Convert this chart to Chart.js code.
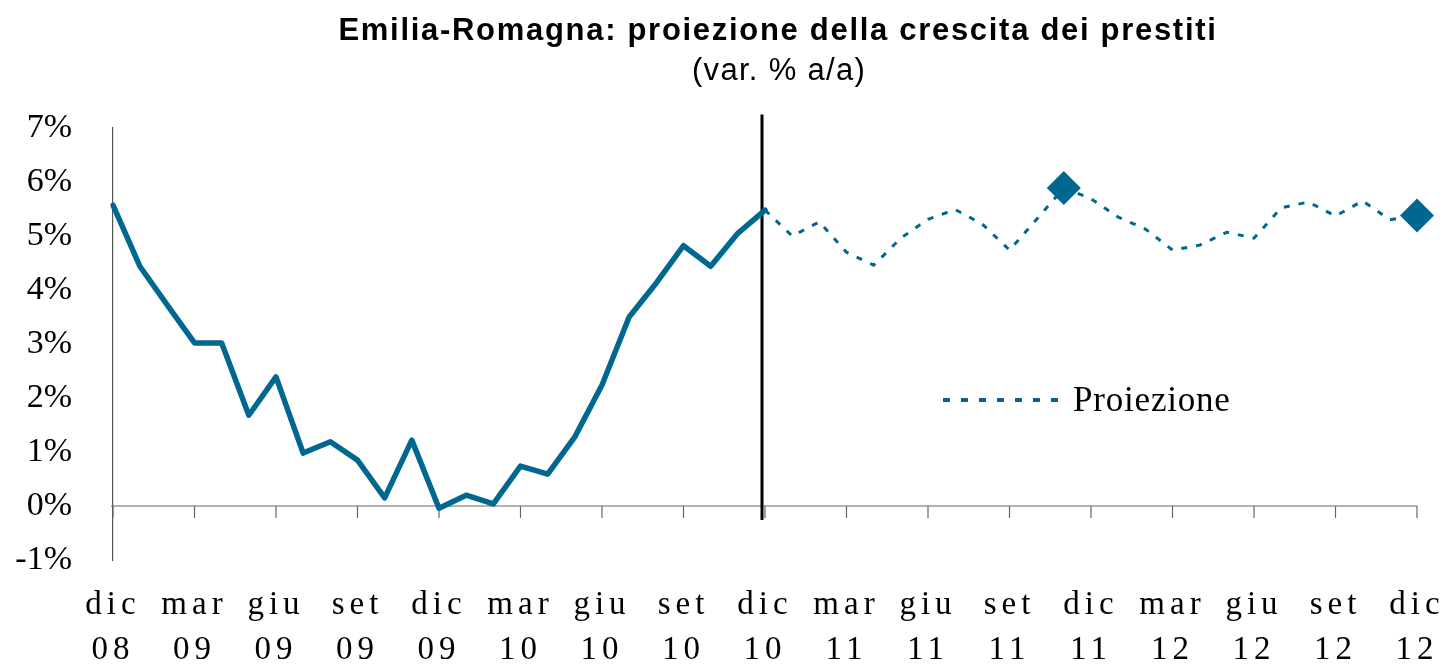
<!DOCTYPE html>
<html lang="it">
<head>
<meta charset="utf-8">
<title>Emilia-Romagna: proiezione della crescita dei prestiti</title>
<script src="https://cdn.jsdelivr.net/npm/chart.js@4/dist/chart.umd.min.js"></script>
<style>
  html, body { margin: 0; padding: 0; background: #fff; }
  #wrap { width: 1449px; height: 666px; }
</style>
</head>
<body>
<div id="wrap"><canvas id="loanChart"></canvas></div>
<script>
// months, dic 08 .. dic 12
const MONTHS = [
  'dic 08',
  'gen 09','feb 09','mar 09','apr 09','mag 09','giu 09','lug 09','ago 09','set 09','ott 09','nov 09','dic 09',
  'gen 10','feb 10','mar 10','apr 10','mag 10','giu 10','lug 10','ago 10','set 10','ott 10','nov 10','dic 10',
  'gen 11','feb 11','mar 11','apr 11','mag 11','giu 11','lug 11','ago 11','set 11','ott 11','nov 11','dic 11',
  'gen 12','feb 12','mar 12','apr 12','mag 12','giu 12','lug 12','ago 12','set 12','ott 12','nov 12','dic 12'
];
// observed growth (%), dic 08 .. dic 10
const ACTUAL = [5.57, 4.43, 3.72, 3.02, 3.02, 1.68, 2.39, 0.98, 1.19, 0.85, 0.15, 1.22, -0.04,
                0.20, 0.04, 0.74, 0.59, 1.28, 2.24, 3.50, 4.13, 4.82, 4.44, 5.05, 5.48];
// projection (%), dic 10 .. dic 12
const PROJECTION = [5.48, 5.00, 5.26, 4.70, 4.46, 4.96, 5.31, 5.49, 5.22, 4.74, 5.31, 5.89,
                    5.69, 5.35, 5.13, 4.74, 4.83, 5.07, 4.96, 5.52, 5.63, 5.37, 5.65, 5.30, 5.38];
const PROJ_START = 'dic 10';
const DIAMOND_AT = ['nov 11', 'dic 12'];
const Y_MIN = -1, Y_MAX = 7;

const TITLE = 'Emilia-Romagna: proiezione della crescita dei prestiti';
const SUBTITLE = '(var. % a/a)';
const LEGEND_LABEL = 'Proiezione';

const BLUE = '#006890';
const SERIF = '"Liberation Serif", "Times New Roman", serif';
const SANS = '"Liberation Sans", Arial, sans-serif';

const startIdx = MONTHS.indexOf(PROJ_START);
const actualData = ACTUAL.concat(Array(MONTHS.length - ACTUAL.length).fill(null));
const projData = Array(startIdx).fill(null).concat(PROJECTION);
const diamondIdx = DIAMOND_AT.map(m => MONTHS.indexOf(m));

const LABEL_SPACING = { x: '5px', y: '0px' };

const overlay = {
  id: 'overlay',
  beforeDraw(chart) {
    // spaced-out month labels, like the original export
    Object.keys(LABEL_SPACING).forEach(id => {
      const sc = chart.scales[id];
      if (!sc || sc._spaced) return;
      const orig = sc.drawLabels;
      sc.drawLabels = function(area) {
        this.ctx.save();
        this.ctx.letterSpacing = LABEL_SPACING[id];
        orig.call(this, area);
        this.ctx.restore();
      };
      sc._spaced = true;
    });
  },
  beforeDatasetsDraw(chart) {
    const { ctx, scales: { x, y } } = chart;
    const y0 = y.getPixelForValue(0);
    ctx.save();
    // zero axis + quarterly ticks
    ctx.strokeStyle = '#666';
    ctx.lineWidth = 1.2;
    ctx.beginPath();
    ctx.moveTo(x.left - 2, y0);
    ctx.lineTo(x.right, y0);
    for (let i = 0; i < MONTHS.length; i += 3) {
      const px = x.getPixelForValue(i);
      ctx.moveTo(px, y0);
      ctx.lineTo(px, y0 + 12);
    }
    ctx.stroke();
    // separator at start of projection
    const sx = x.getPixelForValue(startIdx) - 3;
    ctx.strokeStyle = '#000';
    ctx.lineWidth = 3;
    ctx.beginPath();
    ctx.moveTo(sx, y.getPixelForValue(7.25));
    ctx.lineTo(sx, y.getPixelForValue(-0.26));
    ctx.stroke();
    ctx.restore();
  },
  afterDraw(chart) {
    const { ctx } = chart;
    ctx.save();
    ctx.fillStyle = '#000';
    ctx.textAlign = 'center';
    ctx.textBaseline = 'alphabetic';
    ctx.letterSpacing = '1.7px';
    ctx.font = 'bold 31px ' + SANS;
    ctx.fillText(TITLE, 778, 40);
    ctx.letterSpacing = '1.3px';
    ctx.font = '31px ' + SANS;
    ctx.fillText(SUBTITLE, 779, 80);

    // legend
    ctx.strokeStyle = BLUE;
    ctx.lineWidth = 4;
    ctx.setLineDash([7, 11]);
    ctx.beginPath();
    ctx.moveTo(943, 400);
    ctx.lineTo(1060, 400);
    ctx.stroke();
    ctx.setLineDash([]);
    ctx.textAlign = 'left';
    ctx.textBaseline = 'middle';
    ctx.letterSpacing = '0.8px';
    ctx.font = '35px ' + SERIF;
    ctx.fillText(LEGEND_LABEL, 1073, 402);
    ctx.restore();
  }
};

new Chart(document.getElementById('loanChart'), {
  type: 'line',
  data: {
    labels: MONTHS,
    datasets: [
      {
        label: 'Effettivo',
        data: actualData,
        borderColor: BLUE,
        borderWidth: 5.5,
        borderJoinStyle: 'round',
        borderCapStyle: 'round',
        pointRadius: 0,
        tension: 0,
        spanGaps: false
      },
      {
        label: LEGEND_LABEL,
        data: projData,
        borderColor: BLUE,
        borderWidth: 3,
        borderDash: [6, 9],
        backgroundColor: BLUE,
        pointStyle: 'rectRot',
        pointRadius: c => diamondIdx.includes(c.dataIndex) ? 17 : 0,
        pointBorderWidth: 0,
        pointBackgroundColor: BLUE,
        tension: 0
      }
    ]
  },
  options: {
    responsive: true,
    maintainAspectRatio: false,
    animation: false,
    layout: { padding: { top: 128, right: 32, left: 0, bottom: 0 } },
    plugins: {
      legend: { display: false },
      title: { display: false },
      tooltip: { enabled: false }
    },
    scales: {
      x: {
        type: 'category',
        offset: false,
        grid: { display: false, drawTicks: false },
        border: { display: false },
        afterFit(scale) {
          scale.height = 106;
          scale.paddingLeft = 20;
          scale.paddingRight = 32;
        },
        ticks: {
          autoSkip: false,
          maxRotation: 0,
          padding: 23,
          color: '#000',
          font: { family: SERIF, size: 33, lineHeight: 1.364 },
          callback(val, i) { return i % 3 === 0 ? MONTHS[i].split(' ') : ''; }
        }
      },
      y: {
        min: Y_MIN,
        max: Y_MAX,
        grid: { display: false, drawTicks: false },
        border: { display: true, color: '#555', width: 1.2 },
        afterFit(scale) { scale.width = 113; },
        ticks: {
          stepSize: 1,
          padding: 41,
          color: '#000',
          font: { family: SERIF, size: 34 },
          callback: v => v + '%'
        }
      }
    }
  },
  plugins: [overlay]
});
</script>
</body>
</html>
